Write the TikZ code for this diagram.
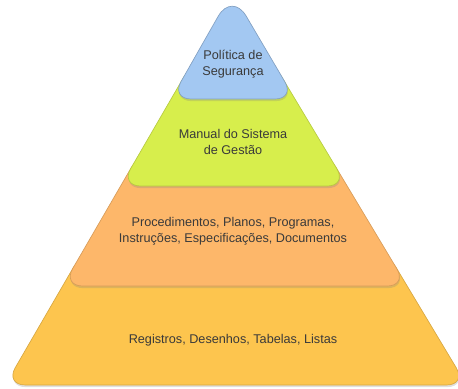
\documentclass[tikz,border=0pt]{standalone}
\usepackage{fontspec}
\setmainfont{Liberation Sans}
\usetikzlibrary{shadows}
\definecolor{politica}{HTML}{A3C8F2}
\definecolor{manual}{HTML}{D7EE4C}
\definecolor{procedimentos}{HTML}{FDB76A}
\definecolor{registos}{HTML}{FDC54E}
\definecolor{legenda}{HTML}{3A3A3A}
\begin{document}
\begin{tikzpicture}[x=0.75pt,y=-0.75pt,
  layer/.style={rounded corners=15pt, line width=0.5pt,
    drop shadow={opacity=0.25, shadow xshift=0.4pt, shadow yshift=-1.6pt}},
  caption/.style={align=center, text=legenda, font=\fontsize{9.5}{12}\selectfont}]
\useasboundingbox (0,0) rectangle (458,389);
\draw[layer, fill=registos, draw=registos!85!black]
       (83.5,250) -- (385.6,250) -- (466.6,385) -- (5.2,385) -- cycle;
\draw[layer, fill=procedimentos, draw=procedimentos!85!black]
       (141.5,150) -- (325.6,150) -- (407.2,286) -- (62.6,286) -- cycle;
\draw[layer, fill=manual, draw=manual!85!black]
       (193.7,60) -- (271.6,60) -- (347.2,186) -- (120.6,186) -- cycle;
\draw[layer, fill=politica, draw=politica!80!black]
       (171.1,99) [rounded corners=21pt] -- (232,-8) [rounded corners=15pt]
    -- (295,99) -- cycle;
\node[caption] (politicaTxt) at (233,64) {Política de\\Segurança};
\node[caption] (manualTxt) at (233,142) {Manual do Sistema\\de Gestão};
\node[caption] (procedimentosTxt) at (233,231)
  {Procedimentos, Planos, Programas,\\Instruções, Especificações, Documentos};
\node[caption] (registosTxt) at (233,340) {Registros, Desenhos, Tabelas, Listas};
\end{tikzpicture}
\end{document}
